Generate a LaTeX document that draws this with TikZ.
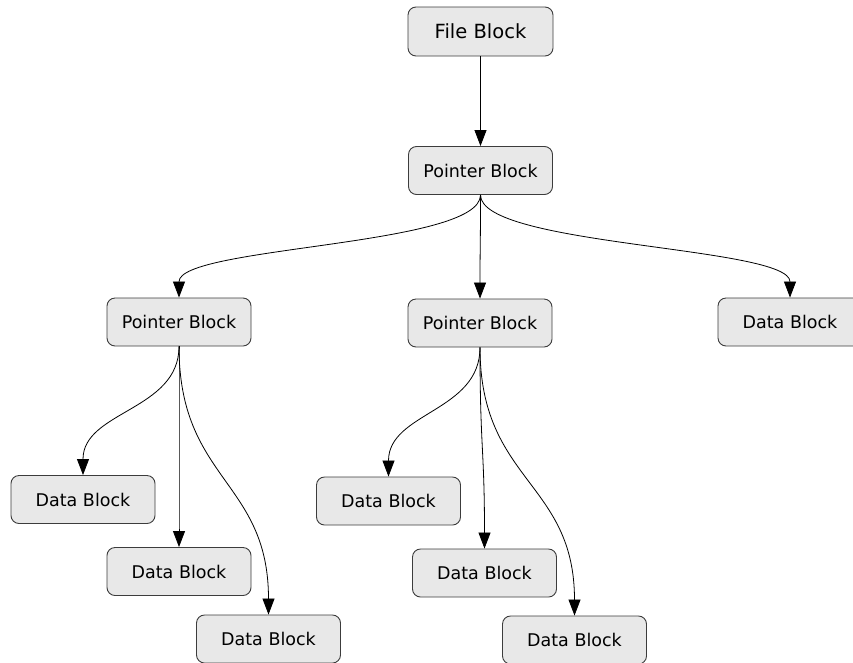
\documentclass[tikz,border=0pt]{standalone}
\usepackage{fontspec}
\setmainfont{DejaVu Sans}
\usetikzlibrary{arrows.meta,calc}
\definecolor{blkfill}{RGB}{232,232,232}
\definecolor{blkline}{RGB}{60,60,60}

\begin{document}
\begin{tikzpicture}[x=1pt, y=-1pt,
  >={Triangle[length=16pt, width=12pt]},
  blk/.style={draw=blkline, fill=blkfill, line width=0.9pt,
    rounded corners=8pt, inner sep=0pt,
    minimum width=144pt, minimum height=48pt,
    font=\fontsize{17.5}{21}\selectfont},
  lnk/.style={->, line width=0.8pt, draw=black,
    to path={let \p1=(\tikztostart), \p2=(\tikztotarget) in
      .. controls (\x1,{0.5*(\y1+\y2)}) and (\x2,{0.5*(\y1+\y2)})
      .. (\tikztotarget) \tikztonodes}},
]
\useasboundingbox (0,0) rectangle (853,662);
% file and pointer blocks
\node[blk, minimum width=145pt, minimum height=49pt,
  font=\fontsize{19.5}{23}\selectfont] (file) at (480.5,31.5) {File Block};
\node[blk] (ptr0) at (480.5,170.5) {Pointer Block};
\node[blk] (ptr1) at (179,322) {Pointer Block};
\node[blk] (ptr2) at (480,323) {Pointer Block};
% data blocks
\foreach \n/\x/\y in {dR/790/322, dL1/83/499.5, dL2/179/571.5,
    dL3/268.5/639, dM1/388.5/501, dM2/484.5/573, dM3/574.5/640} {
  \node[blk] (\n) at (\x,\y) {Data Block};
}
% links, each from the parent's bottom to the child's top
\foreach \a/\b in {file/ptr0, ptr0/ptr1, ptr0/ptr2, ptr0/dR,
    ptr1/dL1, ptr1/dL2, ptr1/dL3, ptr2/dM1, ptr2/dM2, ptr2/dM3} {
  \draw[lnk] (\a.south) to (\b.north);
}
\end{tikzpicture}
\end{document}
